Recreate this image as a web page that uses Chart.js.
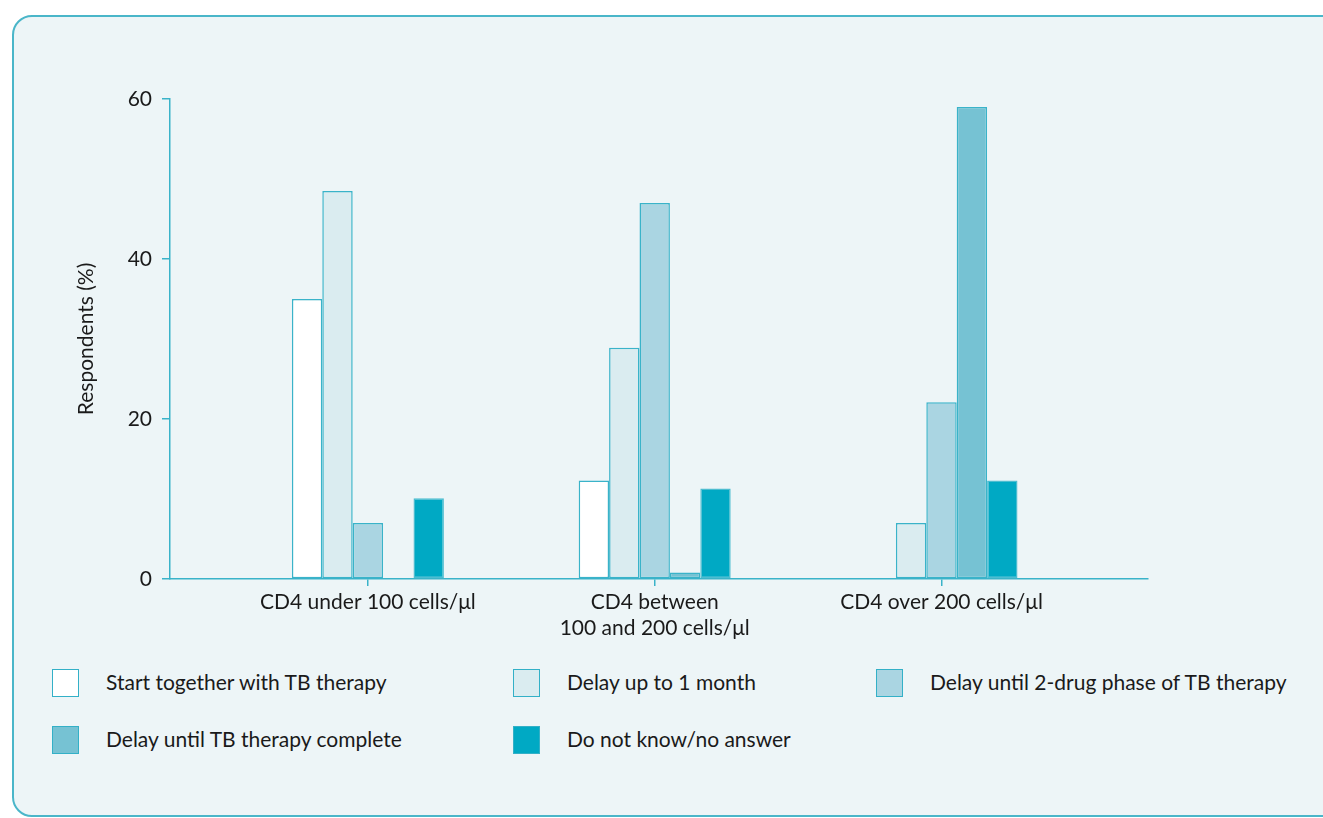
<!DOCTYPE html>
<html>
<head>
<meta charset="utf-8">
<title>ART timing in TB patients</title>
<script src="https://cdn.jsdelivr.net/npm/chart.js@4.4.0/dist/chart.umd.min.js"></script>
<style>
  body { margin: 0; background: #fff; font-family: Lato, sans-serif; }
  #panel {
    position: absolute; left: 12px; top: 15px; width: 1360px; height: 802px;
    box-sizing: border-box; background: #edf5f7;
    border: 2px solid #4ab6c9; border-radius: 20px;
  }
  #wrap { position: absolute; left: 0; top: 0; }
  .item { position: absolute; font-size: 21px; color: #1a1a1a; line-height: 28px; white-space: nowrap; }
  .box { position: absolute; width: 27px; height: 28px; box-sizing: border-box; border: 1.5px solid #33b0c7; }
</style>
</head>
<body>
<div id="panel"></div>
<div id="wrap"><canvas id="chart" width="1323" height="650"></canvas></div>
<div id="legend"></div>
<script>
var categories = [['CD4 under 100 cells/μl'], ['CD4 between', '100 and 200 cells/μl'], ['CD4 over 200 cells/μl']];
var seriesLabels = ['Start together with TB therapy', 'Delay up to 1 month', 'Delay until 2-drug phase of TB therapy',
                    'Delay until TB therapy complete', 'Do not know/no answer'];
var startTogether = [35, 12.3, 0];
var delayMonth = [48.5, 28.9, 7];
var delayTwoDrug = [7, 47, 22.1];
var delayComplete = [0, 0.8, 59];
var dontKnow = [10.1, 11.3, 12.3];
var yTicks = [0, 20, 40, 60];

var colors = ['#ffffff', '#daecf0', '#aad5e2', '#76c2d3', '#00a9c4'];
var series = [startTogether, delayMonth, delayTwoDrug, delayComplete, dontKnow];
var teal = '#3ab3c9';
var font = { family: 'Lato', size: 21 };

var datasets = series.map(function (vals, k) {
  return {
    label: seriesLabels[k],
    data: vals.map(function (v, i) { return { x: i, y: v }; }),
    backgroundColor: colors[k],
    borderColor: k === 4 ? '#4cbdd0' : teal,
    borderWidth: 1.5,
    borderSkipped: false,
    categoryPercentage: 0.53,
    barPercentage: 1
  };
});

var ctx = document.getElementById('chart');
var chart = new Chart(ctx, {
  type: 'bar',
  data: { datasets: datasets },
  options: {
    responsive: false,
    animation: false,
    layout: { padding: { left: 70, top: 99, right: 175, bottom: 0 } },
    plugins: { legend: { display: false }, tooltip: { enabled: false } },
    scales: {
      x: {
        type: 'linear',
        min: -0.69,
        max: 2.72,
        bounds: 'data',
        offset: false,
        afterFit: function (s) { s.height = 71; },
        afterBuildTicks: function (s) { s.ticks = categories.map(function (c, i) { return { value: i }; }); },
        ticks: {
          color: '#1a1a1a',
          font: { family: 'Lato', size: 21, lineHeight: 1.2 },
          padding: 4,
          maxRotation: 0,
          autoSkip: false,
          callback: function (v) { return categories[v] || ''; }
        },
        grid: { offset: false, drawOnChartArea: false, drawTicks: true, tickLength: 7, color: teal, lineWidth: 1.5 },
        border: { display: true, color: teal, width: 1.5 }
      },
      y: {
        min: 0,
        max: 60,
        afterFit: function (s) { s.width = 100; },
        afterBuildTicks: function (s) { s.ticks = yTicks.map(function (v) { return { value: v }; }); },
        ticks: { color: '#1a1a1a', font: font, padding: 10 },
        grid: { drawOnChartArea: false, drawTicks: true, tickLength: 8, color: teal, lineWidth: 1.5 },
        border: { display: true, color: teal, width: 1.5 },
        title: { display: true, text: 'Respondents (%)', color: '#1a1a1a', font: font, padding: { top: 4, bottom: 4 } }
      }
    }
  }
});

// legend grid drawn from the datasets
var legendCols = [52, 513, 876];
var legendRows = [669, 726];
var legend = document.getElementById('legend');
chart.data.datasets.forEach(function (ds, k) {
  var col = legendCols[k % 3], row = legendRows[Math.floor(k / 3)];
  var b = document.createElement('div');
  b.className = 'box';
  b.style.left = col + 'px';
  b.style.top = row + 'px';
  b.style.background = ds.backgroundColor;
  legend.appendChild(b);
  var t = document.createElement('div');
  t.className = 'item';
  t.style.left = (col + 54) + 'px';
  t.style.top = (row - 1) + 'px';
  t.textContent = ds.label;
  legend.appendChild(t);
});
</script>
</body>
</html>
